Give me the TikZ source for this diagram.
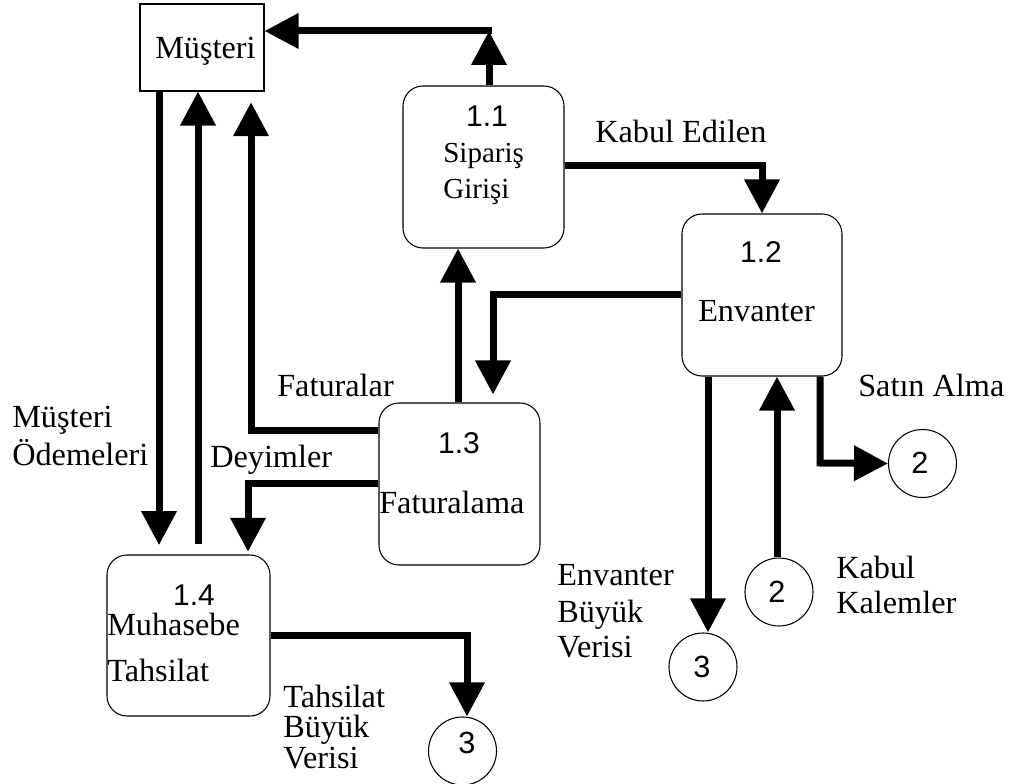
\documentclass[tikz,border=0pt]{standalone}
\usepackage{fontspec}
\setmainfont{Liberation Serif}
\newfontfamily\numfont{Liberation Sans}
\usetikzlibrary{arrows.meta,fit}
\begin{document}
\begin{tikzpicture}[x=0.75pt,y=-0.75pt,
  box/.style={draw,line width=0.8pt,inner sep=0pt},
  proc/.style={box,rounded corners=15pt},
  store/.style={draw,line width=0.8pt,circle,inner sep=0pt,minimum size=51pt},
  wire/.style={line width=5.25pt},
  flow/.style={wire,-{Triangle[length=25.5pt,width=25.5pt]}},
  txt/.style={inner sep=0pt,font=\fontsize{24.2pt}{29pt}\selectfont},
  smalltxt/.style={inner sep=0pt,font=\fontsize{21.8pt}{26pt}\selectfont},
  num/.style={inner sep=0pt,font=\numfont\fontsize{22.5pt}{26pt}\selectfont},
  snum/.style={inner sep=0pt,font=\numfont\fontsize{23pt}{27pt}\selectfont},
]
\useasboundingbox (0,0) rectangle (1011,784);

% external entity and processes
\node[box,fit={(140,4) (264,91)}] (mus) {};
\node[proc,fit={(403,86) (564,248)}] (p11) {};
\node[proc,fit={(682,214) (842,376)}] (p12) {};
\node[proc,fit={(379,403) (540,565)}] (p13) {};
\node[proc,fit={(107,555) (270,716)}] (p14) {};

% data stores
\node[store] (s2a) at (922.5,463.5) {};
\node[store] (s2b) at (779,592) {};
\node[store] (s3a) at (703,667) {};
\node[store] (s3b) at (462.5,751) {};

% texts inside shapes
\node[txt,anchor=base] (tmus) at (205.5,59) {Müşteri};
\node[num,anchor=base] (t11) at (487,127) {1.1};
\node[smalltxt,anchor=base west] (t11a) at (443,163) {Sipariş};
\node[smalltxt,anchor=base west] (t11b) at (443,199) {Girişi};
\node[num,anchor=base] (t12) at (761,263) {1.2};
\node[txt,anchor=base west] (t12a) at (698,322) {Envanter};
\node[num,anchor=base] (t13) at (459,453) {1.3};
\node[txt,anchor=base west] (t13a) at (379,513) {Faturalama};
\node[num,anchor=base] (t14) at (194,605) {1.4};
\node[txt,anchor=base west] (t14a) at (107,635) {Muhasebe};
\node[txt,anchor=base west] (t14b) at (107,681) {Tahsilat};
\node[snum,anchor=base] (n2a) at (920,474) {2};
\node[snum,anchor=base] (n2b) at (777,602) {2};
\node[snum,anchor=base] (n3a) at (702,677) {3};
\node[snum,anchor=base] (n3b) at (467,753) {3};

% bend points of the flows
\coordinate (b1) at (489,31);
\coordinate (b2) at (763,166);
\coordinate (b3) at (493,295);
\coordinate (b4) at (458,0);
\coordinate (b5) at (251,431);
\coordinate (b6) at (248,483);
\coordinate (b7) at (159,0);
\coordinate (b8) at (198,0);
\coordinate (b9) at (467,635);
\coordinate (b10) at (708,0);
\coordinate (b11) at (777,0);
\coordinate (b12) at (820,463);

% data flows
\draw[flow] (b1 |- p11.north) -- (b1);
\draw[flow] ([xshift=2.6pt]b1) -- (b1 -| mus.east);
\draw[flow] (b2 -| p11.east) -| (p12.north);
\draw[flow,shorten >=6pt] (b3 -| p12.west) -| (b3 |- p13.north);
\draw[flow] (b4 |- p13.north) -- (b4 |- p11.south);
\draw[flow,shorten >=8pt] (b5 -| p13.west) -| (b5 |- mus.south);
\draw[flow,shorten >=2pt] (b6 -| p13.west) -| (b6 |- p14.north);
\draw[flow,shorten >=7pt] (b7 |- mus.south) -- (b7 |- p14.north);
\draw[flow,shorten <=7.5pt] (b8 |- p14.north) -- (b8 |- mus.south);
\draw[flow] (b9 -| p14.east) -| (b9 |- s3b.north);
\draw[flow] (b10 |- p12.south) -- (b10 |- s3a.north);
\draw[flow] (b11 |- s2b.north) -- (b11 |- p12.south);
\draw[flow] (b12 |- p12.south) -- (b12) -- (s2a.west);

% flow labels
\node[txt,anchor=base west] (lke) at (595,143) {Kabul Edilen};
\node[txt,anchor=base west] (lsa) at (858,397) {Satın Alma};
\node[txt,anchor=base west] (lfa) at (277,397) {Faturalar};
\node[txt,anchor=base west] (lmo1) at (12,427) {Müşteri};
\node[txt,anchor=base west] (lmo2) at (12,465) {Ödemeleri};
\node[txt,anchor=base west] (lde) at (210,467) {Deyimler};
\node[txt,anchor=base west] (lkk1) at (836,578) {Kabul};
\node[txt,anchor=base west] (lkk2) at (836,613) {Kalemler};
\node[txt,anchor=base west] (leb1) at (557,585) {Envanter};
\node[txt,anchor=base west] (leb2) at (557,622) {Büyük};
\node[txt,anchor=base west] (leb3) at (557,657) {Verisi};
\node[txt,anchor=base west] (ltb1) at (283,707) {Tahsilat};
\node[txt,anchor=base west] (ltb2) at (283,737) {Büyük};
\node[txt,anchor=base west] (ltb3) at (283,768) {Verisi};
\end{tikzpicture}
\end{document}
